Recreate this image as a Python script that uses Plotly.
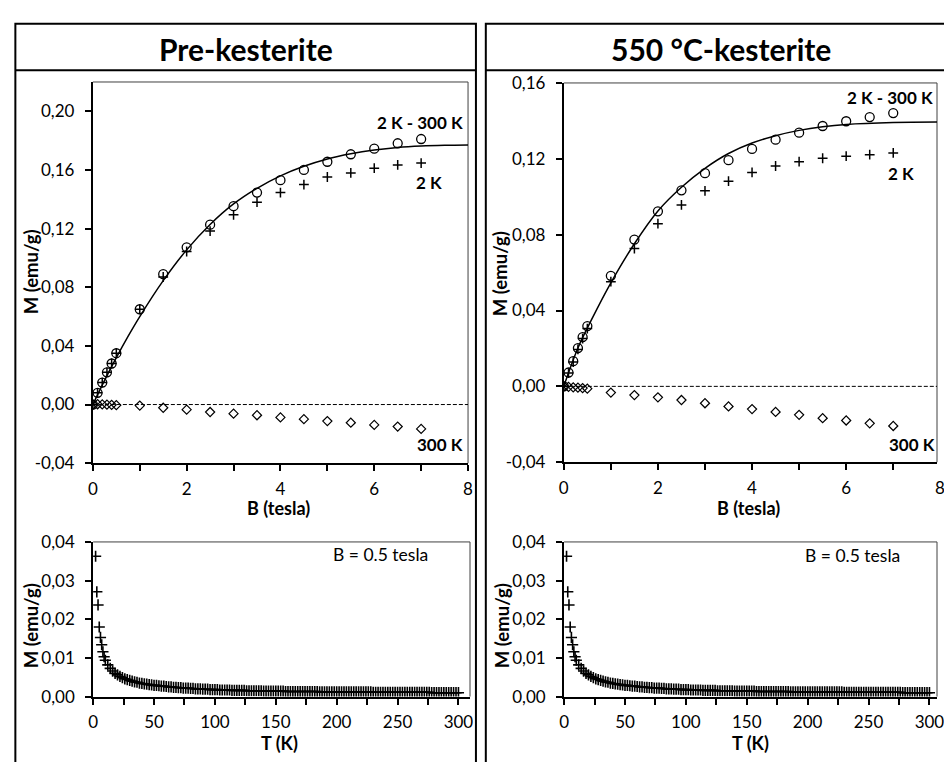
import plotly.graph_objects as go

W, H = 944, 762
FONT = "Lato"

# ---------------- M(B) isotherms ----------------
B_tesla = [0, 0.1, 0.2, 0.3, 0.4, 0.5, 1, 1.5, 2, 2.5, 3, 3.5, 4, 4.5, 5, 5.5, 6, 6.5, 7]

# Pre-kesterite
pre_diff = [0, 0.0080, 0.0150, 0.0220, 0.0280, 0.0350, 0.0650, 0.0889, 0.1072, 0.1227,
            0.1353, 0.1446, 0.1530, 0.1600, 0.1656, 0.1707, 0.1745, 0.1782, 0.1811]
pre_2K = [0, 0.0080, 0.0150, 0.0220, 0.0280, 0.0350, 0.0650, 0.0870, 0.1044, 0.1183,
          0.1294, 0.1380, 0.1446, 0.1500, 0.1552, 0.1580, 0.1612, 0.1634, 0.1647]
pre_300K = [0, 0.0002, 0.0001, -0.0001, -0.0002, -0.0004, -0.0007, -0.0022, -0.0035, -0.0051,
            -0.0062, -0.0073, -0.0088, -0.0100, -0.0113, -0.0124, -0.0139, -0.0150, -0.0166]
pre_fit_B = [0, 0.25, 0.5, 0.75, 1, 1.5, 2, 2.5, 3, 3.5, 4, 4.5, 5, 5.5, 6, 6.5, 7, 7.5, 8]
pre_fit_M = [0, 0.0165, 0.0320, 0.0465, 0.0600, 0.0845, 0.1055, 0.1228, 0.1368, 0.1475,
             0.1560, 0.1625, 0.1675, 0.1710, 0.1736, 0.1754, 0.1764, 0.1769, 0.1771]

# 550 °C-kesterite
kes_diff = [0, 0.0073, 0.0133, 0.0202, 0.0260, 0.0318, 0.0583, 0.0774, 0.0923, 0.1034,
            0.1124, 0.1193, 0.1252, 0.1301, 0.1338, 0.1373, 0.1398, 0.1420, 0.1441]
kes_2K = [0, 0.0070, 0.0128, 0.0195, 0.0252, 0.0305, 0.0552, 0.0727, 0.0858, 0.0957,
          0.1031, 0.1082, 0.1128, 0.1162, 0.1185, 0.1203, 0.1214, 0.1222, 0.1231]
kes_300K = [0, -0.0003, -0.0005, -0.0007, -0.0009, -0.0012, -0.0033, -0.0046, -0.0058, -0.0072,
            -0.0089, -0.0106, -0.0120, -0.0135, -0.0150, -0.0168, -0.0180, -0.0195, -0.0209]
kes_fit_B = [0, 0.3, 0.6, 1, 1.5, 2, 2.5, 3, 3.5, 4, 4.5, 5, 5.5, 6, 7, 8]
kes_fit_M = [0, 0.0202, 0.0357, 0.0546, 0.0752, 0.0925, 0.1050, 0.1150, 0.1228, 0.1283,
             0.1322, 0.1350, 0.1369, 0.1381, 0.1391, 0.1394]

# ---------------- M(T) at B = 0.5 tesla ----------------
T_K = [2, 3, 4, 5, 6, 7, 8, 9, 10,
       12, 14, 16, 18, 20, 22, 24, 26, 28, 30,
       32, 34, 36, 38, 40, 42, 44, 46, 48, 50,
       52, 54, 56, 58, 60, 62, 64, 66, 68, 70,
       72, 74, 76, 78, 80, 82, 84, 86, 88, 90,
       92, 94, 96, 98, 100,
       102, 104, 106, 108, 110, 112,
       114, 116, 118, 120, 122, 124,
       126, 128, 130, 132, 134, 136, 138,
       140, 142, 144, 146, 148, 150, 152, 154, 156,
       158, 160, 162, 164, 166, 168, 170, 172, 174, 176, 178, 180, 182, 184,
       186, 188, 190, 192, 194, 196, 198, 200, 202, 204, 206, 208, 210, 212, 214, 216,
       218, 220, 222, 224, 226, 228,
       230, 232, 234, 236, 238, 240, 242, 244, 246, 248, 250, 252, 254, 256, 258, 260,
       262, 264, 266, 268, 270, 272, 274, 276,
       278, 280, 282, 284, 286, 288, 290, 292, 294, 296, 298, 300]
M_T = [0.0363, 0.0271, 0.0237, 0.0180, 0.0153, 0.0134, 0.0116, 0.0103, 0.0094,
       0.0082, 0.0073, 0.0066, 0.0060, 0.0056, 0.0052, 0.0049, 0.0046, 0.0044, 0.0042,
       0.0040, 0.0038, 0.0037, 0.0035, 0.0034, 0.0033, 0.0032, 0.0031, 0.0030, 0.0029,
       0.0029, 0.0028, 0.0027, 0.0027, 0.0026, 0.0025, 0.0025, 0.0024, 0.0024, 0.0023,
       0.0023, 0.0022, 0.0022, 0.0022, 0.0021, 0.0021, 0.0020, 0.0020, 0.0020, 0.0019,
       0.0019, 0.0019, 0.0018, 0.0018, 0.0018,
       0.0018, 0.0017, 0.0017, 0.0017, 0.0017, 0.0017,
       0.0016, 0.0016, 0.0016, 0.0016, 0.0016, 0.0016,
       0.0015, 0.0015, 0.0015, 0.0015, 0.0015, 0.0015, 0.0015,
       0.0014, 0.0014, 0.0014, 0.0014, 0.0014, 0.0014, 0.0014, 0.0014, 0.0014,
       0.0013, 0.0013, 0.0013, 0.0013, 0.0013, 0.0013, 0.0013, 0.0013, 0.0013, 0.0013,
       0.0013, 0.0013, 0.0013, 0.0013,
       0.0012, 0.0012, 0.0012, 0.0012, 0.0012, 0.0012, 0.0012, 0.0012, 0.0012, 0.0012,
       0.0012, 0.0012, 0.0012, 0.0012, 0.0012, 0.0012, 0.0012, 0.0012, 0.0012, 0.0012,
       0.0012, 0.0012,
       0.0011, 0.0011, 0.0011, 0.0011, 0.0011, 0.0011, 0.0011, 0.0011, 0.0011, 0.0011,
       0.0011, 0.0011, 0.0011, 0.0011, 0.0011, 0.0011, 0.0011, 0.0011, 0.0011, 0.0011,
       0.0011, 0.0011, 0.0011, 0.0011,
       0.0010, 0.0010, 0.0010, 0.0010, 0.0010, 0.0010, 0.0010, 0.0010, 0.0010, 0.0010,
       0.0010, 0.0010]

panel_titles = ["Pre-kesterite", "550 °C-kesterite"]

# y tick values for each plot
yticks_pre = [-0.04, 0.00, 0.04, 0.08, 0.12, 0.16, 0.20]
yticks_kes = [-0.04, 0.00, 0.04, 0.08, 0.12, 0.16]
yticks_T = [0.00, 0.01, 0.02, 0.03, 0.04]


def px(x):
    return x / W


def py(y):
    return 1 - y / H


def comma(v):
    # decimal comma with a plain hyphen for negatives
    return f"{v:.2f}".replace(".", ",")


fig = go.Figure()


def isotherm(xa, ya, diff, m2k, m300, fit_b, fit_m):
    ref = dict(xaxis=xa, yaxis=ya, showlegend=False, hoverinfo="skip")
    fig.add_trace(go.Scatter(x=fit_b, y=fit_m, mode="lines",
                             line=dict(color="black", width=1.5, shape="spline", smoothing=1.0), **ref))
    fig.add_trace(go.Scatter(x=B_tesla, y=m300, mode="markers",
                             marker=dict(symbol="diamond-open", size=7, color="black",
                                         line=dict(width=1.2, color="black")), **ref))
    fig.add_trace(go.Scatter(x=B_tesla, y=m2k, mode="markers",
                             marker=dict(symbol="cross-thin-open", size=7, color="black",
                                         line=dict(width=1.5, color="black")), **ref))
    fig.add_trace(go.Scatter(x=B_tesla, y=diff, mode="markers",
                             marker=dict(symbol="circle-open", size=9, color="black",
                                         line=dict(width=1.3, color="black")), **ref))


isotherm("x", "y", pre_diff, pre_2K, pre_300K, pre_fit_B, pre_fit_M)
isotherm("x2", "y2", kes_diff, kes_2K, kes_300K, kes_fit_B, kes_fit_M)

for xa, ya in (("x3", "y3"), ("x4", "y4")):
    fig.add_trace(go.Scatter(x=T_K, y=M_T, mode="markers", xaxis=xa, yaxis=ya, showlegend=False,
                             hoverinfo="skip",
                             marker=dict(symbol="cross-thin-open", size=8, color="black",
                                         line=dict(width=1.6, color="black"))))

tick_font = dict(family=FONT, size=17, color="black")
axis_common = dict(showline=True, linewidth=2, linecolor="black", ticks="outside", ticklen=6, tickwidth=1.5,
                   tickcolor="black", showgrid=False, zeroline=False, tickfont=tick_font, fixedrange=True,
                   ticklabeloverflow="allow")


def xaxis(dom, rng, dtick, minor, anchor):
    return dict(axis_common, domain=dom, range=rng, tick0=0, dtick=dtick, anchor=anchor, ticklabelstandoff=3,
                minor=dict(dtick=minor, tick0=0, ticks="outside", ticklen=6, tickwidth=1.5,
                           tickcolor="black", showgrid=False))


def yaxis(dom, rng, ticks, anchor):
    return dict(axis_common, domain=dom, range=rng, tickmode="array", tickvals=ticks,
                ticktext=[comma(v) for v in ticks], anchor=anchor, ticklabelstandoff=7)


# plot areas in page pixels; the right-hand plots run to the page edge
top_l = [px(89), px(469)]
top_r = [px(566), 1.0]
bot_l = [px(89.3), px(471)]
bot_r = [px(566.3), 1.0]

fig.update_layout(
    width=W, height=H, margin=dict(l=0, r=0, t=0, b=0),
    paper_bgcolor="white", plot_bgcolor="white",
    font=dict(family=FONT, color="black"),
    xaxis=xaxis(top_l, [0, 8], 2, 1, "y"),
    yaxis=yaxis([py(465), py(73)], [-0.04, 0.22], yticks_pre, "x"),
    xaxis2=xaxis(top_r, [0, 7.93], 2, 1, "y2"),
    yaxis2=yaxis([py(464), py(74)], [-0.04, 0.16], yticks_kes, "x2"),
    xaxis3=xaxis(bot_l, [0, 309.5], 50, 25, "y3"),
    yaxis3=yaxis([py(705), py(546)], [0, 0.04], yticks_T, "x3"),
    xaxis4=xaxis(bot_r, [0, 306.2], 50, 25, "y4"),
    yaxis4=yaxis([py(705), py(546)], [0, 0.04], yticks_T, "x4"),
)

shapes = []
# thin frame on the top and right edge of every plot area
for xa, ya in (("x", "y"), ("x2", "y2"), ("x3", "y3"), ("x4", "y4")):
    d = dict(type="line", xref=f"{xa} domain", yref=f"{ya} domain",
             line=dict(color="#404040", width=1), layer="below")
    shapes.append(dict(d, x0=0, x1=1, y0=1, y1=1))
    shapes.append(dict(d, x0=1, x1=1, y0=0, y1=1))
# dashed zero line on the isotherm plots
for xa, ya in (("x", "y"), ("x2", "y2")):
    shapes.append(dict(type="line", xref=xa, yref=ya, x0=0, x1=8, y0=0, y1=0,
                       line=dict(color="black", width=1, dash="4px,2px")))
# panel boxes with title rows
for x0, x1 in ((10.5, 477), (487, 975)):
    shapes.append(dict(type="rect", xref="paper", yref="paper", x0=px(x0), x1=px(x1), y0=py(790), y1=py(13),
                       line=dict(color="black", width=2), fillcolor="rgba(0,0,0,0)"))
    shapes.append(dict(type="line", xref="paper", yref="paper", x0=px(x0), x1=px(x1), y0=py(61), y1=py(61),
                       line=dict(color="black", width=2)))
fig.update_layout(shapes=shapes)


def label(text, x, y, size=17, bold=True, angle=0):
    return dict(text=f"<b>{text}</b>" if bold else text, x=px(x), y=py(y), xref="paper", yref="paper",
                showarrow=False, textangle=angle, xanchor="center", yanchor="middle",
                font=dict(family=FONT, size=size, color="black"))


annotations = [
    label(panel_titles[0], 244, 39, size=30),
    label(panel_titles[1], 725, 39, size=30),
    # axis titles
    label("M (emu/g)", 26, 268, size=18.5, angle=-90),
    label("M (emu/g)", 501, 270, size=18.5, angle=-90),
    label("M (emu/g)", 26, 632, size=18.5, angle=-90),
    label("M (emu/g)", 503, 632, size=18.5, angle=-90),
    label("B (tesla)", 277, 511, size=18),
    label("B (tesla)", 753, 511, size=18),
    label("T (K)", 278, 753, size=18),
    label("T (K)", 755, 753, size=18),
    # series labels
    label("2 K - 300 K", 420.5, 114.5),
    label("2 K", 429.5, 176.5),
    label("300 K", 441, 446),
    label("2 K - 300 K", 896, 89),
    label("2 K", 907.5, 167.5),
    label("300 K", 918.5, 446),
    label("B = 0.5 tesla", 380, 559, size=17.5, bold=False),
    label("B = 0.5 tesla", 858, 560, size=17.5, bold=False),
    # last B tick label of the right isotherm, running past the page edge
    label("8", 947, 490, bold=False),
]
fig.update_layout(annotations=annotations)

fig.write_html("out.html")
